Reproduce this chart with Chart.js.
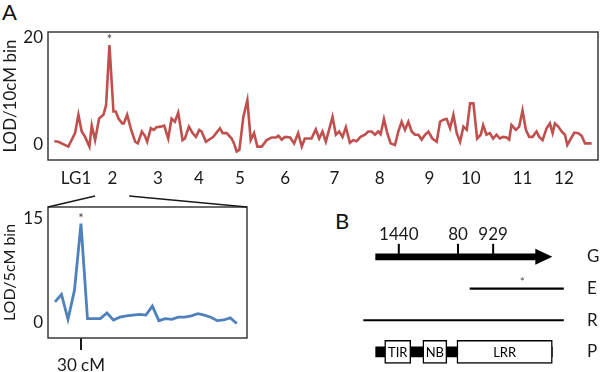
<!DOCTYPE html>
<html>
<head>
<meta charset="utf-8">
<script src="https://cdn.jsdelivr.net/npm/chart.js@4.4.1/dist/chart.umd.min.js"></script>
<style>
  html, body { margin: 0; padding: 0; background: #fff; }
  #wrap { position: relative; width: 600px; height: 372px; overflow: hidden; font-family: Lato, sans-serif; }
  canvas { position: absolute; }
  .panel { position: absolute; font-size: 22px; line-height: 22px; color: #111; }
</style>
</head>
<body>
<div id="wrap">
  <div class="panel" style="left:2px;top:1px">A</div>
  <div class="panel" style="left:335px;top:210px">B</div>
  <canvas id="genomeChart" style="left:0;top:0" width="600" height="195"></canvas>
  <canvas id="lg2Chart" style="left:0;top:190px" width="260" height="182"></canvas>
  <canvas id="geneChart" style="left:330px;top:200px" width="270" height="178"></canvas>
</div>
<script>
// genome scan, LOD per 10 cM bin (x = bin position along the 12 linkage groups)
const binPos = [0.1,1.3,4.3,6.3,7.3,8.3,9.3,10.6,11.3,12.3,
  13.5,14.8,15.6,16.6,17.8,18.5,19.3,20.4,20.9,21.9,
  23.1,24.3,25.1,26.3,27.2,27.9,29.0,29.9,30.7,32.0,
  33.0,34.2,35.2,36.2,37.2,38.5,39.2,40.4,41.5,42.5,
  43.5,44.2,45.5,47.7,49.7,50.5,51.7,53.2,53.9,54.7,
  55.5,56.7,57.9,58.9,59.9,60.9,62.2,63.7,65.2,66.5,
  67.2,68.2,69.2,70.7,71.9,73.1,74.2,75.1,75.6,77.1,
  78.4,79.4,80.4,81.4,83.4,84.4,85.4,86.4,87.4,88.6,
  89.6,90.6,91.8,93.1,94.1,95.1,96.1,97.1,97.8,98.8,
  99.8,100.8,102.1,103.1,104.1,105.1,106.1,107.1,108.1,109.1,
  110.1,111.1,112.1,113.3,114.6,115.6,116.6,117.6,118.6,119.6,
  120.6,121.6,122.6,123.6,124.6,125.6,126.7,127.8,128.5,129.5,
  130.5,131.5,132.5,133.5,134.5,135.5,136.3,137.0,138.3,139.3,
  140.3,141.3,142.3,143.3,144.5,145.3,146.3,147.5,148.5,149.3,
  150.0,151.0,152.0,153.0,153.7,154.8,155.8,157.0,158.0,159.0,
  161.0];
const lod10 = [0.7,0.6,-0.3,2.2,5.6,2.5,1.5,-0.3,3.6,0.9,
  4.9,5.6,7.4,18.5,6.2,6.2,4.9,4.0,4.0,5.6,
  2.8,0.6,0.3,2.5,1.7,0.6,3.1,2.8,3.3,3.4,
  3.6,1.2,4.9,4.3,6.0,0.9,1.2,3.4,2.2,1.5,
  2.8,2.5,0.6,1.5,3.1,2.2,2.2,1.2,0.3,-1.2,
  -0.9,5.2,8.3,0.9,2.2,-0.3,-0.3,0.9,1.4,1.4,
  1.7,1.0,1.5,1.4,0.3,2.2,-0.3,1.2,1.2,1.2,
  2.9,1.2,2.5,0.6,5.2,1.9,2.5,1.5,3.3,0.4,
  0.9,0.7,1.5,1.9,2.5,2.5,1.9,2.5,2.0,4.8,
  2.2,0.3,0,2.5,4.3,2.8,4.3,2.5,1.9,1.9,
  1.0,1.9,2.5,1.2,0.6,4.3,4.7,4.8,3.1,5.6,
  2.2,0.6,3.4,2.8,7.7,7.7,1.2,1.9,3.7,1.9,
  2.2,1.2,1.9,1.2,1.5,1.4,1.0,3.7,2.8,3.4,
  6.4,2.8,1.5,1.5,2.5,1.5,0.9,3.1,4.0,2.2,
  4.0,3.4,2.5,1.9,0,1.2,2.3,2.2,1.7,0.3,
  0.3];
const lgLabels = ['LG1','2','3','4','5','6','7','8','9','10','11','12'];
const lgCenters = [6.6,17.5,31.1,43.4,55.7,69.2,84.0,97.5,112.4,124.8,140.3,152.7];
const lg2Span = [12.3, 22.5];

// LG2 fine scan, LOD per 5 cM bin
const cmPos = [10,15,20,25,30,35,40,45,50,55,60,65,70,75,80,85,90,95,100,105,110,115,120,125,130,135,140,145,150];
const lod5 = [2.9,4.0,0.4,4.6,14.2,0.5,0.5,0.5,1.3,0.3,0.7,0.9,1.0,1.1,1.0,2.3,0.2,0.5,0.4,0.7,0.7,0.9,1.2,1.0,0.7,0.2,0.3,0.6,-0.2];
const cmTicks = [30];

// gene model (panel B)
const geneRows = ['G','E','R','P'];
const geneSpan = [0, 94];
const geneTip = 100;
const snpPos = [13.1, 46.6, 66.5];
const snpLabels = ['1440','80','929'];
const estSpan = [53.4, 106.3];
const estStar = 83;
const rnaSpan = [-6.8, 106.3];
const proteinSpan = [0, 100];
const domainNames = ['TIR','NB','LRR'];
const domainStarts = [5.1, 26.7, 46];
const domainEnds = [19.9, 40.3, 100];

const FONT = 'Lato, sans-serif';
const INK = '#1a1a1a';
Chart.defaults.font.family = FONT;
Chart.defaults.color = INK;

const framePlugin = {
  id: 'frame',
  afterDraw(chart) {
    const a = chart.chartArea, ctx = chart.ctx;
    ctx.save();
    ctx.strokeStyle = '#3a3a3a';
    ctx.lineWidth = 1.5;
    ctx.strokeRect(a.left, a.top, a.right - a.left, a.bottom - a.top);
    ctx.restore();
  }
};

const peakStar = {
  id: 'peakStar',
  afterDatasetsDraw(chart) {
    const vals = chart.data.datasets[0].data.map(p => p.y);
    const i = vals.indexOf(Math.max(...vals));
    const pt = chart.getDatasetMeta(0).data[i];
    const ctx = chart.ctx;
    ctx.save();
    ctx.fillStyle = '#444';
    ctx.font = '13px ' + FONT;
    ctx.textAlign = 'center';
    ctx.textBaseline = 'alphabetic';
    ctx.fillText('*', pt.x, pt.y - 1);
    ctx.restore();
  }
};

const genomeChart = new Chart(document.getElementById('genomeChart'), {
  type: 'line',
  data: {
    datasets: [{
      data: binPos.map((x, i) => ({ x: x, y: lod10[i] })),
      borderColor: '#c0504d',
      borderWidth: 2.6,
      pointRadius: 0,
      tension: 0
    }]
  },
  options: {
    responsive: false,
    animation: false,
    layout: { padding: { top: 32, right: 2, bottom: 0, left: 0 } },
    plugins: { legend: { display: false }, tooltip: { enabled: false } },
    scales: {
      x: {
        type: 'linear', min: -1.8, max: 162.9,
        grid: { display: false, drawTicks: false },
        border: { display: false },
        afterBuildTicks: a => { a.ticks = lgCenters.map(v => ({ value: v })); },
        afterFit: a => { a.height = 35; },
        ticks: {
          autoSkip: false, maxRotation: 0, padding: 8, color: INK,
          font: { size: 17 },
          callback: (v, i) => lgLabels[i]
        }
      },
      y: {
        min: -2.78, max: 20.93,
        grid: { display: false, drawTicks: false },
        border: { display: false },
        afterBuildTicks: a => { a.ticks = [{ value: 0 }, { value: 20 }]; },
        afterFit: a => { a.width = 48; },
        ticks: { padding: 5, color: INK, font: { size: 17 } },
        title: { display: true, text: 'LOD/10cM bin', color: INK, font: { size: 17 }, padding: 0 }
      }
    }
  },
  plugins: [framePlugin, peakStar]
});

const connectors = {
  id: 'connectors',
  afterDraw(chart) {
    const a = chart.chartArea, ctx = chart.ctx;
    const tx = genomeChart.scales.x;
    ctx.save();
    ctx.strokeStyle = INK;
    ctx.lineWidth = 1.5;
    ctx.beginPath();
    ctx.moveTo(a.left, a.top);
    ctx.lineTo(tx.getPixelForValue(lg2Span[0]), 6);
    ctx.moveTo(a.right, a.top);
    ctx.lineTo(tx.getPixelForValue(lg2Span[1]), 6);
    ctx.stroke();
    ctx.restore();
  }
};

new Chart(document.getElementById('lg2Chart'), {
  type: 'line',
  data: {
    datasets: [{
      data: cmPos.map((x, i) => ({ x: x, y: lod5[i] })),
      borderColor: '#4f81bd',
      borderWidth: 2.8,
      pointRadius: 0,
      tension: 0
    }]
  },
  options: {
    responsive: false,
    animation: false,
    layout: { padding: { top: 17, right: 13, bottom: 0, left: 0 } },
    plugins: { legend: { display: false }, tooltip: { enabled: false } },
    scales: {
      x: {
        type: 'linear', min: 4.6, max: 157.9,
        grid: { display: true, drawOnChartArea: false, drawTicks: true, tickLength: 12, lineWidth: 2, color: INK },
        border: { display: false },
        afterBuildTicks: a => { a.ticks = cmTicks.map(v => ({ value: v })); },
        afterFit: a => { a.height = 34; },
        ticks: { autoSkip: false, maxRotation: 0, padding: 5, color: INK, font: { size: 17 }, callback: v => v + ' cM' }
      },
      y: {
        min: -2.3, max: 16.6,
        grid: { display: false, drawTicks: false },
        border: { display: false },
        afterBuildTicks: a => { a.ticks = [{ value: 0 }, { value: 15 }]; },
        afterFit: a => { a.width = 48; },
        ticks: { padding: 5, color: INK, font: { size: 17 } },
        title: { display: true, text: 'LOD/5cM bin', color: INK, font: { size: 16 }, padding: 0 }
      }
    }
  },
  plugins: [framePlugin, peakStar, connectors]
});

const geneNotes = {
  id: 'geneNotes',
  afterDatasetsDraw(chart) {
    const ctx = chart.ctx, xs = chart.scales.x, ys = chart.scales.y;
    const yG = ys.getPixelForValue(geneRows.indexOf('G'));
    const yE = ys.getPixelForValue(geneRows.indexOf('E'));
    ctx.save();
    // arrow head at the 3' end of the gene
    const tip = xs.getPixelForValue(geneTip);
    ctx.fillStyle = '#000';
    ctx.beginPath();
    ctx.moveTo(tip, yG);
    ctx.lineTo(tip - 17, yG - 8);
    ctx.lineTo(tip - 17, yG + 8);
    ctx.closePath();
    ctx.fill();
    // SNP ticks and labels
    ctx.strokeStyle = '#000';
    ctx.fillStyle = INK;
    ctx.lineWidth = 2;
    ctx.textAlign = 'center';
    ctx.textBaseline = 'middle';
    ctx.font = '17px ' + FONT;
    snpPos.forEach((p, i) => {
      const x = xs.getPixelForValue(p);
      ctx.beginPath();
      ctx.moveTo(x, yG - 3);
      ctx.lineTo(x, yG - 13);
      ctx.stroke();
      ctx.fillText(snpLabels[i], x, yG - 22);
    });
    ctx.fillStyle = '#555';
    ctx.font = '12px ' + FONT;
    ctx.textBaseline = 'alphabetic';
    ctx.fillText('*', xs.getPixelForValue(estStar), yE - 3);
    // domain names inside the boxes
    ctx.fillStyle = '#000';
    ctx.font = '13px ' + FONT;
    ctx.textBaseline = 'middle';
    domainNames.forEach((n, i) => {
      const el = chart.getDatasetMeta(i).data[geneRows.indexOf('P')];
      ctx.fillText(n, (el.x + el.base) / 2, el.y + 1);
    });
    ctx.restore();
  }
};

const onRow = (row, span) => geneRows.map(r => (r === row ? span : null));

new Chart(document.getElementById('geneChart'), {
  type: 'bar',
  data: {
    labels: geneRows,
    datasets: [
      ...domainNames.map((n, i) => ({
        label: n,
        data: onRow('P', [domainStarts[i], domainEnds[i]]),
        backgroundColor: '#fff', borderColor: '#000', borderWidth: 1.5,
        borderSkipped: false, barThickness: 23, grouped: false
      })),
      { label: 'protein', data: onRow('P', proteinSpan), backgroundColor: '#000', barThickness: 10, grouped: false },
      { label: 'RNA', data: onRow('R', rnaSpan), backgroundColor: '#000', barThickness: 1.5, grouped: false },
      { label: 'EST', data: onRow('E', estSpan), backgroundColor: '#000', barThickness: 1.5, grouped: false },
      { label: 'gene', data: onRow('G', geneSpan), backgroundColor: '#000', barThickness: 6, grouped: false }
    ]
  },
  options: {
    indexAxis: 'y',
    responsive: false,
    animation: false,
    layout: { padding: { top: 41, right: 0, bottom: 0, left: 28 } },
    plugins: { legend: { display: false }, tooltip: { enabled: false } },
    scales: {
      x: { type: 'linear', min: -10, max: 110, display: false },
      y: {
        type: 'category', labels: geneRows, position: 'right', offset: true,
        // label gap comes from the (hidden) tick length so it does not pad the chart area
        grid: { display: false, drawTicks: true, tickLength: 17 },
        border: { display: false },
        afterFit: a => { a.width = 30; },
        ticks: { padding: 0, color: INK, font: { size: 17 } }
      }
    }
  },
  plugins: [geneNotes]
});
</script>
</body>
</html>
